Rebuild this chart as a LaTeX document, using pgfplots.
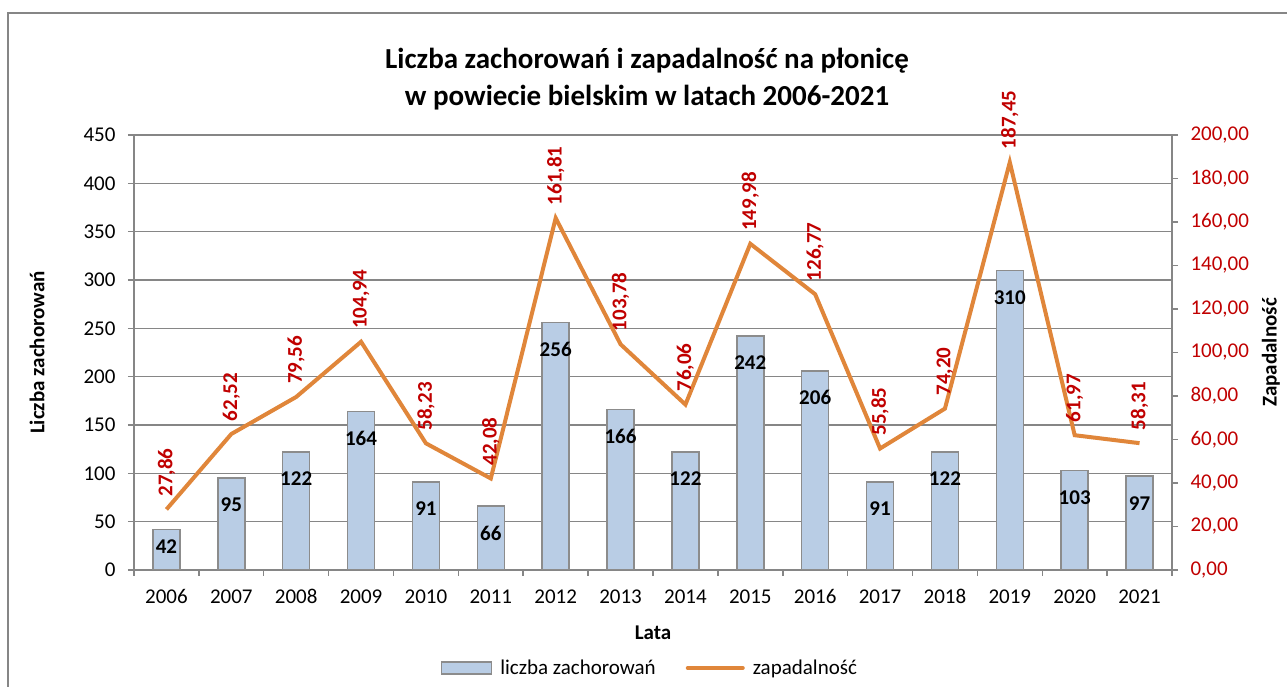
\documentclass[border=0pt]{standalone}
\usepackage{fontspec}
\setmainfont{Carlito}
\usepackage{pgfplots}
\usepackage{pgfplotstable}
\pgfplotsset{compat=1.18}
\definecolor{barfill}{HTML}{B9CDE5}
\definecolor{baredge}{HTML}{8C8C8C}
\definecolor{lineor}{HTML}{E0863A}
\definecolor{redtxt}{HTML}{C00000}
\definecolor{gridc}{HTML}{868686}
\pgfplotstableread{
x cases rate
0 42 27.86
1 95 62.52
2 122 79.56
3 164 104.94
4 91 58.23
5 66 42.08
6 256 161.81
7 166 103.78
8 122 76.06
9 242 149.98
10 206 126.77
11 91 55.85
12 122 74.20
13 310 187.45
14 103 61.97
15 97 58.31
}\datatable
\newcommand{\tfont}{\fontsize{21}{25}\selectfont}
\begin{document}
\begin{tikzpicture}
\path[use as bounding box] (-134pt,-117pt) rectangle (1153pt,570pt);
\draw[gridc, line width=1.5pt] (-126pt,-140pt) rectangle (1175pt,557pt);
\node[font=\fontsize{29}{37}\selectfont\bfseries, align=center] at (513pt,491pt) {Liczba zachorowań i zapadalność na płonicę\\w powiecie bielskim w latach 2006-2021};
\begin{axis}[
  at={(0pt,0pt)}, anchor=south west,
  scale only axis, width=1038pt, height=435pt,
  xmin=-0.5, xmax=15.5, ymin=0, ymax=450,
  ytick={0,50,...,450},
  axis x line*=bottom, axis y line*=left,
  axis line style={gridc, line width=1.5pt},
  ymajorgrids, grid style={gridc, line width=1.5pt},
  tick align=outside, major tick length=6pt,
  tick style={gridc, line width=1.5pt},
  xtick={-0.5,0.5,...,15.5}, xticklabels={},
  extra x ticks={0,1,...,15},
  extra x tick labels={2006,2007,2008,2009,2010,2011,2012,2013,2014,2015,2016,2017,2018,2019,2020,2021},
  extra x tick style={tick style={draw=none}},
  tick label style={font=\tfont, black},
  xticklabel style={yshift=-10pt},
  yticklabel style={xshift=-9pt},
  /pgf/number format/assume math mode=true,
  ylabel={Liczba zachorowań},
  ylabel style={at={(axis description cs:-0.0934,0.5)}, anchor=center, font=\tfont\bfseries},
  xlabel={Lata},
  xlabel style={at={(axis description cs:0.5,-0.1448)}, anchor=center, font=\tfont\bfseries},
  legend style={at={(axis description cs:0.497,-0.2253)}, anchor=center, draw=none, font=\tfont,
    /tikz/every odd column/.append style={column sep=6pt},
    /tikz/every even column/.append style={column sep=28pt}},
  legend columns=2,
  legend cell align=left,
]
\addplot[ybar, bar width=27pt, fill=barfill, draw=baredge, line width=1.5pt,
  legend image code/.code={\draw[fill=barfill, draw=baredge, line width=1.5pt] (0pt,-6pt) rectangle (50pt,6pt);},
  nodes near coords,
  every node near coord/.append style={font=\tfont\bfseries, black, anchor=center, yshift=-27pt},
  coordinate style/.condition={y<50}{yshift=10pt},
] table[x=x,y=cases]{\datatable};
\addlegendentry{liczba zachorowań}
\addlegendimage{lineor, line width=4pt, legend image code/.code={\draw[lineor, line width=4pt, line cap=round] (0pt,0pt) -- (55pt,0pt);}}
\addlegendentry{zapadalność}
\end{axis}
\begin{axis}[
  at={(0pt,0pt)}, anchor=south west,
  scale only axis, width=1038pt, height=435pt,
  xmin=-0.5, xmax=15.5, ymin=0, ymax=200,
  ytick={0,20,...,200},
  axis y line*=right, axis x line=none,
  axis line style={gridc, line width=1.5pt},
  tick align=outside, major tick length=6pt,
  tick style={gridc, line width=1.5pt},
  yticklabel style={font=\tfont, redtxt, xshift=9pt},
  /pgf/number format/fixed,
  /pgf/number format/fixed zerofill,
  /pgf/number format/precision=2,
  /pgf/number format/use comma,
  /pgf/number format/assume math mode=true,
  ylabel={Zapadalność},
  ylabel style={at={(axis description cs:1.0954,0.5)}, anchor=center, font=\tfont\bfseries},
]
\addplot[lineor, line width=4pt, mark=none,
  nodes near coords,
  every node near coord/.append style={rotate=90, anchor=west, inner xsep=11pt, inner ysep=0pt, redtxt, font=\tfont\bfseries},
] table[x=x,y=rate]{\datatable};
\end{axis}
\end{tikzpicture}
\end{document}
